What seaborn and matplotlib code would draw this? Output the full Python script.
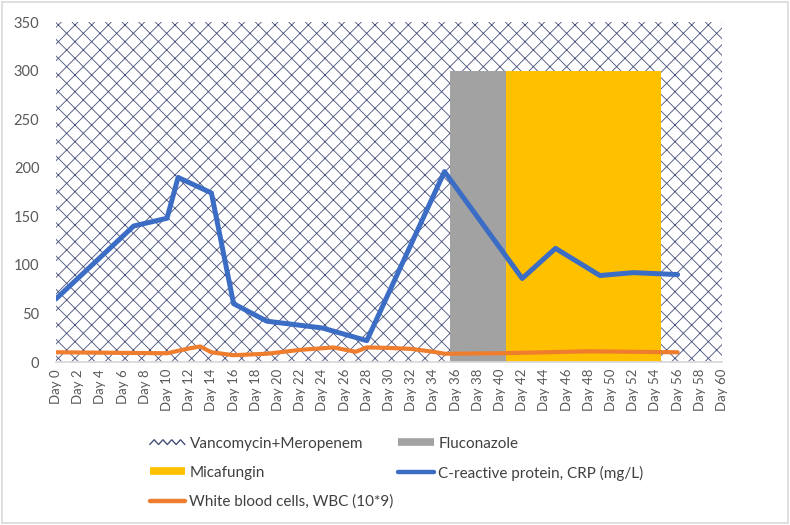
import numpy as np
import pandas as pd
import matplotlib
matplotlib.use("Agg")
import matplotlib.pyplot as plt
import seaborn as sns
from matplotlib.patches import Rectangle
from matplotlib.lines import Line2D
from matplotlib.legend_handler import HandlerBase

# ---- data ----
crp_days = [0, 7, 10, 11, 14, 16, 19, 24, 28, 35, 42, 45, 49, 52, 56]
crp_vals = [65, 140, 148, 190, 174, 60, 42, 35, 22, 196, 86, 117, 89, 92, 90]

wbc_days = [0, 10, 12, 13, 14, 16, 19, 22, 25, 27, 28, 30, 32, 34, 35, 40, 48, 56]
wbc_vals = [10, 9, 14, 16, 10, 7, 8.5, 12.5, 15, 10.5, 15, 14.5, 13.5, 10.5, 8.5, 9, 11, 10]

vanco_days = [0, 60]
vanco_val = 350
fluco_days = [36, 37, 38, 39, 40]
fluco_val = 300
mica_days = list(range(41, 55))
mica_val = 300

tick_days = list(range(0, 61, 2))
tick_labels = [f"Day {d}" for d in tick_days]
y_ticks = [0, 50, 100, 150, 200, 250, 300, 350]

label_vanco = "Vancomycin+Meropenem"
label_fluco = "Fluconazole"
label_mica = "Micafungin"
label_crp = "C-reactive protein, CRP (mg/L)"
label_wbc = "White blood cells, WBC (10*9)"

# ---- style ----
sns.set_theme(style="white")
plt.rcParams['font.family'] = ['Lato', 'DejaVu Sans']
plt.rcParams['hatch.linewidth'] = 0.6

c_hatch = "#46507A"
c_gray = "#A2A2A2"
c_yellow = "#FFC000"
c_blue = "#3C6DC5"
c_orange = "#EF7D2E"
c_text = "#595959"


class ZigzagHandler(HandlerBase):
    def create_artists(self, legend, orig_handle, xdescent, ydescent,
                       width, height, fontsize, trans):
        n = 9
        xs = [-xdescent + width * i / (n - 1) for i in range(n)]
        ys = [-ydescent + height * (0.3 if i % 2 == 0 else 0.75) for i in range(n)]
        ln = Line2D(xs, ys, color=c_hatch, linewidth=1.0, transform=trans)
        return [ln]


fig = plt.figure(figsize=(7.9, 5.25), dpi=100)
ax = fig.add_axes([56/790, 1-362/525, (722-56)/790, (362-22)/525])

# Vancomycin+Meropenem hatched area
ax.fill_between(vanco_days, 0, vanco_val, facecolor="white", edgecolor=c_hatch,
                hatch="xx", linewidth=0, zorder=1)
# Fluconazole / Micafungin bars
ax.bar(fluco_days, [fluco_val]*len(fluco_days), width=1.0, color=c_gray,
       linewidth=0, zorder=2)
ax.bar(mica_days, [mica_val]*len(mica_days), width=1.0, color=c_yellow,
       linewidth=0, zorder=2)

crp_df = pd.DataFrame({"day": crp_days, "value": crp_vals})
wbc_df = pd.DataFrame({"day": wbc_days, "value": wbc_vals})
sns.lineplot(data=crp_df, x="day", y="value", ax=ax, color=c_blue, linewidth=3.6,
             zorder=4)
sns.lineplot(data=wbc_df, x="day", y="value", ax=ax, color=c_orange, linewidth=3.0,
             zorder=3)

ax.set_xlim(0, 60)
ax.set_ylim(0, 350)
ax.set_xticks(tick_days)
ax.set_xticklabels(tick_labels, rotation=90, fontsize=9.5, color=c_text)
ax.set_yticks(y_ticks)
ax.set_yticklabels([str(v) for v in y_ticks], fontsize=10.5, color=c_text)
ax.tick_params(axis="y", pad=12, length=0)
ax.tick_params(axis="x", pad=5, length=0)
ax.set_xlabel("")
ax.set_ylabel("")
for s in ["left", "right", "top"]:
    ax.spines[s].set_visible(False)
ax.spines["bottom"].set_color("#D9D9D9")
ax.grid(False)

h_vanco = Line2D([], [], color=c_hatch)
h_fluco = Line2D([], [], color=c_gray, linewidth=5.5, solid_capstyle="butt")
h_mica = Line2D([], [], color=c_yellow, linewidth=5.5, solid_capstyle="butt")
h_crp = Line2D([], [], color=c_blue, linewidth=3.2)
h_wbc = Line2D([], [], color=c_orange, linewidth=3.2)

# column-major order so the legend reads row by row
handles = [h_vanco, h_mica, h_wbc, h_fluco, h_crp]
labels = [label_vanco, label_mica, label_wbc, label_fluco, label_crp]
leg = fig.legend(handles, labels, ncol=2, loc="upper center",
                 bbox_to_anchor=(0.502, 1-423/525), frameon=False,
                 fontsize=11, handlelength=2.3, handletextpad=0.3,
                 columnspacing=0.3, labelspacing=0.98,
                 handler_map={h_vanco: ZigzagHandler()})
for t in leg.get_texts():
    t.set_color("#404040")

fig.patches.append(Rectangle((2/790, 2/525), 786/790, 521/525, transform=fig.transFigure,
                             fill=False, edgecolor="#D9D9D9", linewidth=1.2))

fig.savefig("out.png", dpi=100)
